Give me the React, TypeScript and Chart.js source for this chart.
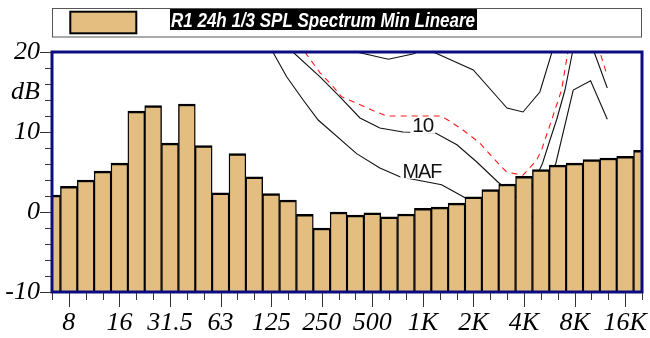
import React, { useEffect, useRef } from 'react';
import { Chart, registerables } from 'chart.js';

Chart.register(...registerables);

// 1/3 octave bands (band index 0..35)
const bands = ['6.3', '8', '10', '12.5', '16', '20', '25', '31.5', '40', '50', '63', '80', '100', '125', '160', '200', '250', '315', '400', '500', '630', '800', '1K', '1.25K', '1.6K', '2K', '2.5K', '3.15K', '4K', '5K', '6.3K', '8K', '10K', '12.5K', '16K', '20K'];
const labeledBands = ['8', '16', '31.5', '63', '125', '250', '500', '1K', '2K', '4K', '8K', '16K'];

// R1 24h 1/3 SPL Spectrum Min Lineare (dB)
const splMin = [2.1, 3.2, 4.0, 5.1, 6.1, 12.6, 13.3, 8.6, 13.5, 8.3, 2.4, 7.3, 4.4, 2.3, 1.5, -0.3, -2.0, 0.0, -0.4, -0.1, -0.6, -0.25, 0.45, 0.6, 1.1, 1.9, 2.8, 3.5, 4.45, 5.3, 5.85, 6.1, 6.55, 6.75, 6.95, 7.7];

// Reference curves: [band position, dB]
const mafCurve = [[13.1, 20], [13.92, 16.9], [14.9, 14], [15.79, 11.5], [18.07, 7.3], [19.45, 5.5], [20.64, 4.4], [23.11, 3.4], [24.4, 1.9], [28, -3], [29.89, 6.1], [30.92, 15.25], [31.95, 16.4], [32.94, 11.6]];
const phon10Curve = [[14.29, 20], [15.9, 16.9], [17.08, 14.4], [18.27, 11.75], [19.45, 10.5], [20.82, 10], [22.72, 9.9], [24.02, 8.4], [25.2, 6.25], [26.45, 3.75], [28, 1], [29.1, 6.1], [29.54, 9], [29.93, 11.5], [30.43, 15.25], [30.88, 20], [31.5, 24], [32.16, 20], [32.94, 15.5]];
const dashedCurve = [[15.0, 20], [15.9, 17.4], [16.59, 15.9], [17.18, 14.4], [18.07, 13.6], [18.96, 12.75], [19.85, 12], [23.01, 12], [23.41, 11.6], [24.38, 10.25], [25.39, 8.6], [26.28, 6.5], [26.97, 5.0], [27.94, 4.6], [28.75, 6.5], [29.04, 7.75], [29.64, 11.5], [30.23, 15.25], [30.6, 20], [31.5, 24], [32.5, 20], [32.94, 17]];
const phon20Curve = [[18.07, 20], [19.95, 19.1], [21.4, 19.75], [22.06, 20.3], [22.72, 19.9], [24.99, 17.75], [26.57, 14], [26.99, 13], [27.94, 12.5], [28.94, 15], [29.66, 20], [30.3, 24]];

const curveLabels = [
  { text: '10', x: 22.0, y: 10.85 },
  { text: 'MAF', x: 21.95, y: 5.15 },
];

const yLabels: Record<string, string> = { '20': '20', '15': 'dB', '10': '10', '0': '0', '-10': '-10' };

const legendText = 'R1 24h 1/3 SPL Spectrum Min Lineare';
const BAR_COLOR = '#E3BE80';
const FRAME_COLOR = '#0c0c80';

const toXY = (pts: number[][]) => pts.map(([x, y]) => ({ x, y }));

const decorPlugin = {
  id: 'decor',
  afterDatasetsDraw(chart: any) {
    const { ctx, chartArea, scales } = chart;
    const xs = scales.x, ys = scales.y;
    // curve labels
    ctx.save();
    ctx.font = '21px "Liberation Sans", Arial, sans-serif';
    ctx.textAlign = 'center';
    ctx.textBaseline = 'middle';
    try { (ctx as any).letterSpacing = '-1px'; } catch (e) { /* ignore */ }
    for (const l of curveLabels) {
      const px = xs.getPixelForValue(l.x);
      const py = ys.getPixelForValue(l.y);
      const w = Math.min(ctx.measureText(l.text).width, l.text.length > 2 ? 39 : 21);
      ctx.fillStyle = '#fff';
      ctx.fillRect(px - w / 2 - 2, py - 7.5, w + 4, 15.5);
      ctx.fillStyle = '#111';
      ctx.fillText(l.text, px, py + 1, w);
    }
    ctx.restore();
    // frame
    ctx.save();
    ctx.strokeStyle = FRAME_COLOR;
    ctx.lineWidth = 3;
    ctx.strokeRect(chartArea.left, chartArea.top, chartArea.right - chartArea.left, chartArea.bottom - chartArea.top);
    ctx.restore();
  },
  afterDraw(chart: any) {
    const { ctx, chartArea, scales } = chart;
    const xs = scales.x, ys = scales.y;
    ctx.save();
    ctx.strokeStyle = '#333';
    ctx.lineWidth = 1;
    ctx.beginPath();
    for (let v = -10; v <= 20; v += 2) {
      const py = Math.round(ys.getPixelForValue(v)) + 0.5;
      const len = v % 10 === 0 ? 12 : 7;
      ctx.moveTo(chartArea.left - len, py);
      ctx.lineTo(chartArea.left - 1, py);
    }
    for (let i = 0; i < bands.length; i++) {
      const px = Math.round(xs.getPixelForValue(i)) + 0.5;
      const len = labeledBands.includes(bands[i]) ? 15 : 8;
      ctx.moveTo(px, chartArea.bottom + 1);
      ctx.lineTo(px, chartArea.bottom + len);
    }
    ctx.stroke();
    ctx.restore();

    // legend
    ctx.save();
    ctx.strokeStyle = '#555';
    ctx.lineWidth = 1;
    ctx.strokeRect(52.5, 8.5, 589, 28.5);
    ctx.fillStyle = BAR_COLOR;
    ctx.fillRect(70, 12, 66, 21);
    ctx.strokeStyle = '#000';
    ctx.lineWidth = 2;
    ctx.strokeRect(70.3, 11.7, 66, 21.6);
    ctx.fillStyle = '#000';
    ctx.fillRect(170, 9, 307, 21);
    ctx.fillStyle = '#fff';
    ctx.font = 'italic bold 20px "Liberation Sans", Arial, sans-serif';
    ctx.textBaseline = 'alphabetic';
    ctx.textAlign = 'left';
    ctx.fillText(legendText, 171, 26.5, 304);
    ctx.restore();
  },
};

export default function App() {
  const ref = useRef<HTMLCanvasElement | null>(null);
  useEffect(() => {
    if (!ref.current) return;
    const lineBase = { type: 'line' as const, pointRadius: 0, borderWidth: 1.1, tension: 0, order: 2, fill: false };
    const chart = new Chart(ref.current, {
      type: 'bar',
      data: {
        datasets: [
          {
            type: 'bar',
            label: legendText,
            data: splMin.map((v, i) => ({ x: i, y: v })),
            base: -10,
            backgroundColor: BAR_COLOR,
            borderColor: '#000',
            borderWidth: { top: 2.5, left: 1.4, right: 1.4, bottom: 0 },
            borderSkipped: 'start',
            barPercentage: 1,
            categoryPercentage: 1,
            order: 0,
          } as any,
          { ...lineBase, label: 'MAF', data: toXY(mafCurve), borderColor: '#111' },
          { ...lineBase, label: '10', data: toXY(phon10Curve), borderColor: '#111' },
          { ...lineBase, label: '20', data: toXY(phon20Curve), borderColor: '#111' },
          { ...lineBase, label: 'dashed', data: toXY(dashedCurve), borderColor: '#ff1a1a', borderDash: [6, 5] },
        ],
      },
      options: {
        animation: false,
        responsive: false,
        maintainAspectRatio: false,
        layout: { padding: { top: 52, right: 8, left: 0, bottom: 0 } },
        plugins: { legend: { display: false }, tooltip: { enabled: false } },
        scales: {
          x: {
            type: 'linear',
            min: 0,
            max: 35,
            offset: false,
            grid: { display: true, offset: false, drawOnChartArea: false, color: 'rgba(0,0,0,0)', tickLength: 15 },
            border: { display: false },
            ticks: {
              stepSize: 1,
              autoSkip: false,
              maxRotation: 0,
              padding: 1,
              color: '#000',
              font: { family: '"Liberation Serif", "Times New Roman", serif', size: 26, style: 'italic' },
              callback: (v: any) => {
                const b = bands[Math.round(Number(v))];
                return labeledBands.includes(b) ? b : '';
              },
            },
            afterFit: (s: any) => { s.height = 46; },
          },
          y: {
            min: -10,
            max: 20,
            grid: { display: true, drawOnChartArea: false, color: 'rgba(0,0,0,0)', tickLength: 12 },
            border: { display: false },
            ticks: {
              stepSize: 5,
              padding: 0,
              color: '#000',
              font: { family: '"Liberation Serif", "Times New Roman", serif', size: 26, style: 'italic' },
              callback: (v: any) => yLabels[String(v)] ?? '',
            },
            afterFit: (s: any) => { s.width = 52; },
          },
        },
      } as any,
      plugins: [decorPlugin],
    });
    return () => chart.destroy();
  }, []);
  return (
    <div style={{ position: 'absolute', left: 0, top: 0, width: 650, height: 338, background: '#fff' }}>
      <canvas ref={ref} width={650} height={338} style={{ display: 'block' }} />
    </div>
  );
}
